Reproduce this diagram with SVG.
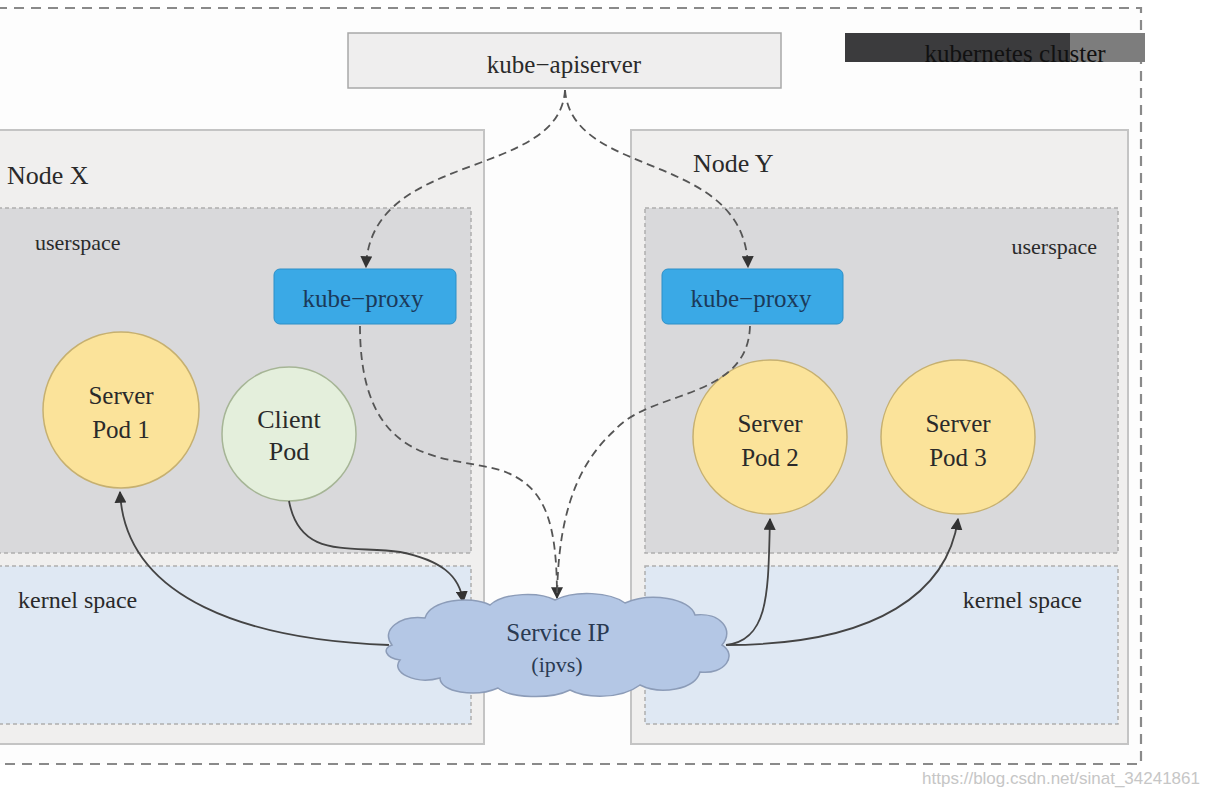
<svg xmlns="http://www.w3.org/2000/svg" width="1207" height="795" viewBox="0 0 1207 795">
<style>
.t{font-family:"Liberation Serif","DejaVu Serif",serif;fill:#2a2a2a;}
.node{fill:#f0efee;stroke:#c4c4c4;stroke-width:2;}
.user{fill:#d9d9db;stroke:#aeaeae;stroke-width:1.5;stroke-dasharray:4 3;}
.kern{fill:#dfe8f3;stroke:#aeaeae;stroke-width:1.5;stroke-dasharray:4 3;}
.proxy{fill:#3aa9e6;stroke:#2d8fc7;stroke-width:1;}
.pod{fill:#fbe39a;stroke:#c6b070;stroke-width:1.5;}
.cpod{fill:#e4efdc;stroke:#a6b596;stroke-width:1.5;}
.dash{fill:none;stroke:#555;stroke-width:1.8;stroke-dasharray:8 5;}
.solid{fill:none;stroke:#444;stroke-width:1.8;}
</style>
<defs>
<marker id="ah" viewBox="0 0 10 10" refX="9" refY="5" markerWidth="12" markerHeight="12" markerUnits="userSpaceOnUse" orient="auto">
<path d="M0,0 L10,5 L0,10 Z" fill="#333"/>
</marker>
</defs>
<rect width="1207" height="795" fill="#ffffff"/>
<g id="cluster">
<rect x="-20" y="8" width="1161" height="756" fill="#fdfdfd" stroke="#8a8a8a" stroke-width="2.2" stroke-dasharray="10 7"/>
<rect x="845" y="33" width="225" height="29" fill="#3b3b3d"/>
<rect x="1070" y="33" width="75" height="29" fill="#7d7d7d"/>
<text class="t" x="1015" y="62" text-anchor="middle" font-size="25" style="fill:#111">kubernetes cluster</text>
</g>
<g id="apiserver">
<rect x="348" y="33" width="433" height="55" fill="#efeeee" stroke="#a8a8a8" stroke-width="1.5"/>
<text class="t" x="564" y="73" text-anchor="middle" font-size="25">kube−apiserver</text>
</g>
<g id="nodeX">
<rect class="node" x="-10" y="130" width="494" height="614"/>
<text class="t" x="7" y="184" font-size="26">Node X</text>
<rect class="user" x="-2" y="208" width="473" height="345"/>
<text class="t" x="35" y="250" font-size="22">userspace</text>
<rect class="kern" x="-2" y="566" width="473" height="158"/>
<text class="t" x="18" y="608" font-size="24">kernel space</text>
</g>
<g id="nodeY">
<rect class="node" x="631" y="130" width="497" height="614"/>
<text class="t" x="693" y="172" font-size="26">Node Y</text>
<rect class="user" x="645" y="208" width="473" height="345"/>
<text class="t" x="1097" y="254" text-anchor="end" font-size="22">userspace</text>
<rect class="kern" x="645" y="566" width="473" height="158"/>
<text class="t" x="1082" y="608" text-anchor="end" font-size="24">kernel space</text>
</g>
<g id="proxyX">
<rect class="proxy" x="274" y="269" width="182" height="55" rx="6"/>
<text class="t" x="363" y="307" text-anchor="middle" font-size="25" style="fill:#1b3a5a">kube−proxy</text>
</g>
<g id="proxyY">
<rect class="proxy" x="662" y="269" width="181" height="55" rx="6"/>
<text class="t" x="751" y="307" text-anchor="middle" font-size="25" style="fill:#1b3a5a">kube−proxy</text>
</g>
<g id="pod1">
<circle class="pod" cx="121" cy="410" r="78"/>
<text class="t" x="121" y="404" text-anchor="middle" font-size="25">Server</text>
<text class="t" x="121" y="438" text-anchor="middle" font-size="25">Pod 1</text>
</g>
<g id="clientPod">
<circle class="cpod" cx="289" cy="434" r="67"/>
<text class="t" x="289" y="428" text-anchor="middle" font-size="26">Client</text>
<text class="t" x="289" y="460" text-anchor="middle" font-size="26">Pod</text>
</g>
<g id="pod2">
<circle class="pod" cx="770" cy="437" r="77"/>
<text class="t" x="770" y="432" text-anchor="middle" font-size="25">Server</text>
<text class="t" x="770" y="466" text-anchor="middle" font-size="25">Pod 2</text>
</g>
<g id="pod3">
<circle class="pod" cx="958" cy="437" r="77"/>
<text class="t" x="958" y="432" text-anchor="middle" font-size="25">Server</text>
<text class="t" x="958" y="466" text-anchor="middle" font-size="25">Pod 3</text>
</g>
<g id="connectors">
<path class="dash" d="M565,90 C560,180 370,150 366,267" marker-end="url(#ah)"/>
<path class="dash" d="M565,90 C572,180 745,150 748,267" marker-end="url(#ah)"/>
<path class="dash" d="M360,326 C360,470 450,455 500,470 C545,485 557,520 557,598" marker-end="url(#ah)"/>
<path class="dash" d="M750,326 C748,400 650,390 615,430 C570,470 558,530 557,598"/>
<path class="solid" d="M389,645 C250,640 125,600 120,492" marker-end="url(#ah)"/>
<path class="solid" d="M289,501 C300,560 350,545 400,552 C440,560 460,575 463,602" marker-end="url(#ah)"/>
<path class="solid" d="M726,645 C770,640 768,590 770,519" marker-end="url(#ah)"/>
<path class="solid" d="M726,645 C880,645 948,590 958,519" marker-end="url(#ah)"/>
</g>
<g id="serviceIP">
<path d="M392,645 C380,630 400,615 425,618 C430,600 470,595 490,605 C505,592 540,592 555,600 C575,590 610,592 625,603 C650,592 690,598 695,615 C720,612 735,630 722,645 C738,655 725,675 700,672 C695,690 660,695 640,685 C620,700 585,698 570,690 C550,700 510,698 498,688 C475,698 440,692 440,678 C415,685 390,672 400,660 C385,658 382,648 392,645 Z" fill="#b4c7e5" stroke="#8c9cb8" stroke-width="1.5"/>
<text class="t" x="558" y="641" text-anchor="middle" font-size="25" style="fill:#2a3a52">Service IP</text>
<text class="t" x="557" y="672" text-anchor="middle" font-size="22" style="fill:#2a3a52">(ipvs)</text>
</g>
<text x="1200" y="784" text-anchor="end" font-family="Liberation Sans, Arial, sans-serif" font-size="17" fill="#c6c6c6">https://blog.csdn.net/sinat_34241861</text>
</svg>
